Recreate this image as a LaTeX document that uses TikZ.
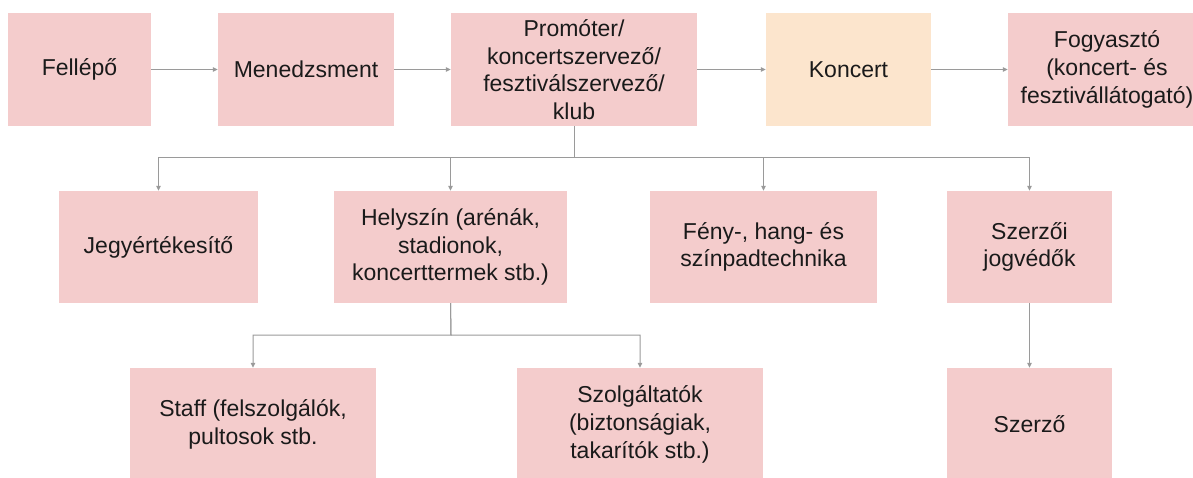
\documentclass[tikz,border=0pt]{standalone}
\usepackage{fontspec}
\setmainfont{Liberation Sans}
\usetikzlibrary{arrows.meta,calc}
\definecolor{boxpink}{HTML}{F4CCCC}
\definecolor{boxpeach}{HTML}{FCE5CD}
\definecolor{linegray}{HTML}{9A9A9A}
\definecolor{txt}{HTML}{1A1A1A}
\tikzset{
  box/.style={rectangle, fill=boxpink, draw=none, inner sep=0pt, align=center,
    text=txt, font=\fontsize{23}{27.6}\selectfont},
  peachbox/.style={box, fill=boxpeach},
  conn/.style={draw=linegray, line width=1pt, -{Triangle[length=5pt,width=4.5pt]}},
}
\newcommand{\mybox}[7]{% style, name, x1, y1, x2, y2, text
  \node[#1, minimum width={(#5-#3)*1pt}, minimum height={(#6-#4)*1pt}] (#2) at ({(#3+#5)/2},{(#4+#6)/2}) {#7};}
\begin{document}
\begin{tikzpicture}[x=1pt,y=-1pt]
\useasboundingbox (0,0) rectangle (1193,478);
% top row
\mybox{box}{fellepo}{8}{13}{151}{126}{Fellépő}
\mybox{box}{menedzs}{218}{13}{394}{126}{Menedzsment}
\mybox{box}{promoter}{451}{13}{697}{126}{Promóter/\\koncertszervező/\\fesztiválszervező/\\klub}
\mybox{peachbox}{koncert}{766}{13}{931}{126}{Koncert}
\mybox{box}{fogyaszto}{1008}{13}{1206}{126}{Fogyasztó\\(koncert- és\\fesztivállátogató)}
% middle row
\mybox{box}{jegy}{59}{191}{258}{303}{Jegyértékesítő}
\mybox{box}{helyszin}{334}{191}{567}{303}{Helyszín (arénák,\\stadionok,\\koncerttermek stb.)}
\mybox{box}{feny}{650}{191}{877}{303}{Fény-, hang- és\\színpadtechnika}
\mybox{box}{szerzoi}{947}{191}{1112}{303}{Szerzői\\jogvédők}
% bottom row
\mybox{box}{staff}{130}{368}{376}{481}{Staff (felszolgálók,\\pultosok stb.}
\mybox{box}{szolg}{517}{368}{763}{481}{Szolgáltatók\\(biztonságiak,\\takarítók stb.)}
\mybox{box}{szerzo}{947}{368}{1112}{481}{Szerző}
% bus coordinates
\coordinate (bus1) at (574,158);
\coordinate (bus2) at (451,335);
% top row arrows
\draw[conn] (fellepo.east) -- (menedzs.west);
\draw[conn] (menedzs.east) -- (promoter.west);
\draw[conn] (promoter.east) -- (koncert.west);
\draw[conn] (koncert.east) -- (fogyaszto.west);
% promoter to middle row
\draw[conn] (promoter.south) -- (bus1) -| (jegy.north);
\draw[conn] (promoter.south) -- (bus1) -| (helyszin.north);
\draw[conn] (promoter.south) -- (bus1) -| (feny.north);
\draw[conn] (promoter.south) -- (bus1) -| (szerzoi.north);
% helyszin to bottom row
\draw[conn] (helyszin.south) -- (bus2) -| (staff.north);
\draw[conn] (helyszin.south) -- (bus2) -| (szolg.north);
% szerzoi to szerzo
\draw[conn] (szerzoi.south) -- (szerzo.north);
\end{tikzpicture}
\end{document}
